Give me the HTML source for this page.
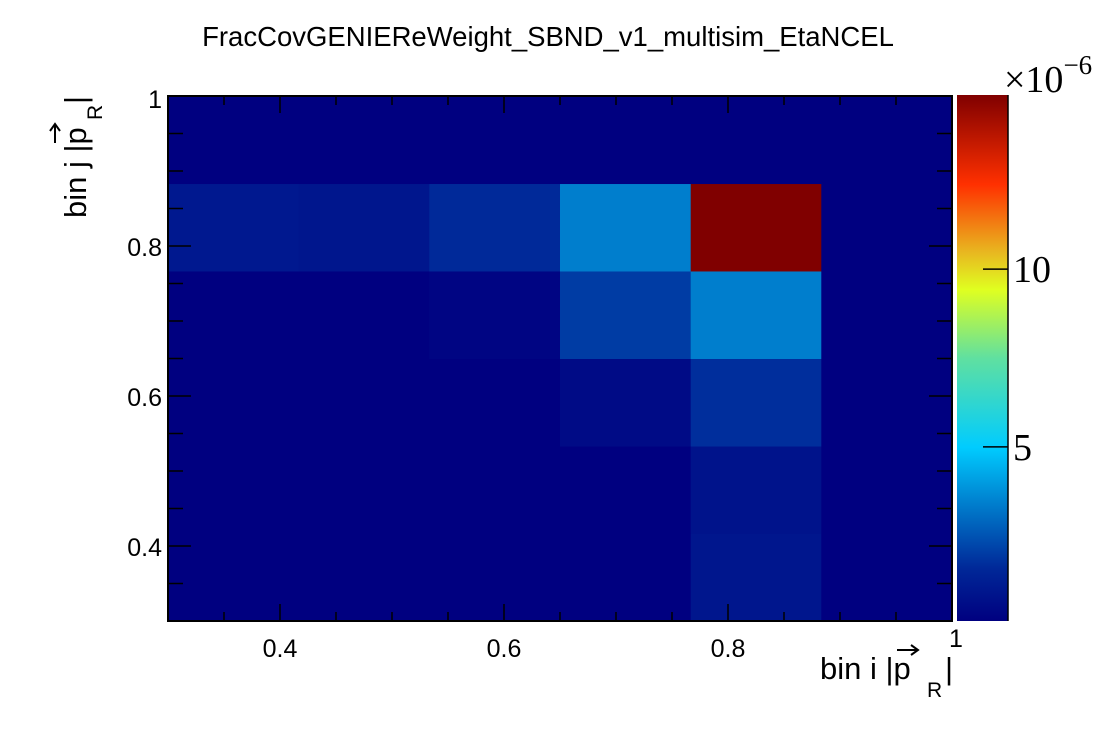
<!DOCTYPE html>
<html><head><meta charset="utf-8"><style>
html,body{margin:0;padding:0;background:#fff;width:1120px;height:740px;overflow:hidden}
svg{display:block}
text{font-family:"Liberation Sans",sans-serif}
</style></head><body>
<svg id="chart" width="1120" height="740" xmlns="http://www.w3.org/2000/svg">
<rect x="0" y="0" width="1120" height="740" fill="#fff"/>
<text x="548" y="46" font-size="27.5" text-anchor="middle">FracCovGENIEReWeight_SBND_v1_multisim_EtaNCEL</text>
<g id="cells"></g>
<g id="axes"></g>
<g id="cbar"></g>
<g>
<text x="820" y="679" font-size="31">bin i |p</text>
<text x="927" y="697" font-size="21">R</text>
<text x="945" y="679" font-size="31">|</text>
<path d="M897 650 L918 650 M911 645 L918 650 L911 655" stroke="#000" stroke-width="2" fill="none"/>
</g>
<g transform="translate(86,218) rotate(-90)">
<text x="0" y="0" font-size="31">bin j |p</text>
<text x="98" y="16" font-size="21">R</text>
<text x="114" y="0" font-size="31">|</text>
<path d="M75 -31 L94 -31 M87 -36 L94 -31 L87 -26" stroke="#000" stroke-width="2" fill="none"/>
</g>
<text x="1004" y="92" font-size="38" style="font-family:'Liberation Serif',serif">×10<tspan font-size="27" dy="-18">−6</tspan></text>
</svg>
<script>
// data (values ×1e-6); rows from bottom (j=0) to top (j=5), columns i=0..5
const xEdges = [0.3, 0.4167, 0.5333, 0.65, 0.7667, 0.8833, 1.0];
const yEdges = [0.3, 0.4167, 0.5333, 0.65, 0.7667, 0.8833, 1.0];
const row0 = [0.1, 0.1, 0.1, 0.1, 0.9, 0.1];
const row1 = [0.1, 0.1, 0.1, 0.1, 0.8, 0.1];
const row2 = [0.1, 0.1, 0.1, 0.5, 1.7, 0.1];
const row3 = [0.1, 0.1, 0.3, 2.0, 3.4, 0.1];
const row4 = [1.0, 0.9, 1.6, 3.4, 14.9, 0.1];
const row5 = [0.1, 0.1, 0.1, 0.1, 0.1, 0.1];
const xTicks = [0.4, 0.6, 0.8, 1.0];
const xTickLabels = ["0.4", "0.6", "0.8", "1"];
const yTicks = [0.4, 0.6, 0.8, 1.0];
const yTickLabels = ["0.4", "0.6", "0.8", "1"];
const zTicks = [5, 10];
const zTickLabels = ["5", "10"];
const zMin = 0.1, zMax = 14.9;

const NS = "http://www.w3.org/2000/svg";
const L = 168, R = 952, T = 96, B = 621;
const X0 = 0.3, X1 = 1.0, Y0 = 0.3, Y1 = 1.0;
const xs = v => L + (v - X0) / (X1 - X0) * (R - L);
const ys = v => B - (v - Y0) / (Y1 - Y0) * (B - T);
const CB = {l: 957, r: 1008, t: 95, b: 621};
const zs = v => CB.b - (v - zMin) / (zMax - zMin) * (CB.b - CB.t);
const stops = [[0,[0,0,128]],[0.1,[0,40,152]],[0.22,[0,124,204]],[0.33,[0,204,255]],[0.5,[96,224,160]],[0.63,[224,255,32]],[0.7,[232,184,32]],[0.83,[255,48,0]],[1,[128,0,0]]];
function color(v){
  let f = Math.max(0, Math.min(1, (v - zMin) / (zMax - zMin)));
  for (let k = 1; k < stops.length; k++) {
    if (f <= stops[k][0]) {
      const a = stops[k-1], b = stops[k];
      const t = (f - a[0]) / (b[0] - a[0]);
      const c = a[1].map((x, n) => Math.round(x + (b[1][n] - x) * t));
      return `rgb(${c[0]},${c[1]},${c[2]})`;
    }
  }
  return "rgb(128,0,0)";
}
function mk(tag, attrs, parent){
  const e = document.createElementNS(NS, tag);
  for (const k in attrs) e.setAttribute(k, attrs[k]);
  parent.appendChild(e); return e;
}
const rows = [row0, row1, row2, row3, row4, row5];
const cells = document.getElementById("cells");
rows.forEach((row, j) => row.forEach((v, i) => {
  const x = xs(xEdges[i]), x2 = xs(xEdges[i+1]);
  const y = ys(yEdges[j+1]), y2 = ys(yEdges[j]);
  const r = mk("rect", {x: x, y: y, width: x2 - x + 0.5, height: y2 - y + 0.5, fill: color(v)}, cells);
  
  
}));
const ax = document.getElementById("axes");
mk("rect", {x: L, y: T, width: R - L, height: B - T, fill: "none", stroke: "#000", "stroke-width": 2}, ax);
for (let k = 0; k <= 14; k++) {
  const v = 0.3 + k * 0.05;
  const major = xTicks.some(t => Math.abs(t - v) < 1e-6);
  const len = major ? 17 : 9;
  const x = xs(v), y = ys(v);
  mk("line", {x1: x, x2: x, y1: B, y2: B - len, stroke: "#000", "stroke-width": 1.5}, ax);
  mk("line", {x1: x, x2: x, y1: T, y2: T + len, stroke: "#000", "stroke-width": 1.5}, ax);
  mk("line", {x1: L, x2: L + len + 6, y1: y, y2: y, stroke: "#000", "stroke-width": 1.5}, ax);
  mk("line", {x1: R, x2: R - len - 6, y1: y, y2: y, stroke: "#000", "stroke-width": 1.5}, ax);
}
xTicks.forEach((v, i) => {
  const last = i === xTicks.length - 1;
  const t = mk("text", {x: xs(v) + (last ? 4 : 0), y: last ? 647 : 657, "font-size": 25, "text-anchor": "middle"}, ax);
  t.textContent = xTickLabels[i];
  
  
});
yTicks.forEach((v, i) => {
  const last = i === yTicks.length - 1;
  const t = mk("text", {x: 162, y: last ? 108 : ys(v) + 10, "font-size": 25, "text-anchor": "end"}, ax);
  t.textContent = yTickLabels[i];
  
  
});
const cb = document.getElementById("cbar");
const defs = mk("defs", {}, cb);
const g = mk("linearGradient", {id: "grad", x1: 0, y1: 1, x2: 0, y2: 0}, defs);
stops.forEach(s => mk("stop", {offset: s[0], "stop-color": `rgb(${s[1].join(",")})`}, g));
mk("rect", {x: CB.l, y: CB.t, width: CB.r - CB.l, height: CB.b - CB.t, fill: "url(#grad)"}, cb);
mk("line", {x1: CB.r, x2: CB.r, y1: CB.t, y2: CB.b, stroke: "#000", "stroke-width": 1.5}, cb);
zTicks.forEach((v, i) => {
  mk("line", {x1: CB.r - 25, x2: CB.r, y1: zs(v), y2: zs(v), stroke: "#000", "stroke-width": 1.5}, cb);
  const t = mk("text", {x: CB.r + 5, y: zs(v) + 13, "font-size": 38, style: "font-family:'Liberation Serif',serif"}, cb);
  t.textContent = zTickLabels[i];
  
  
});
</script>
</body></html>
